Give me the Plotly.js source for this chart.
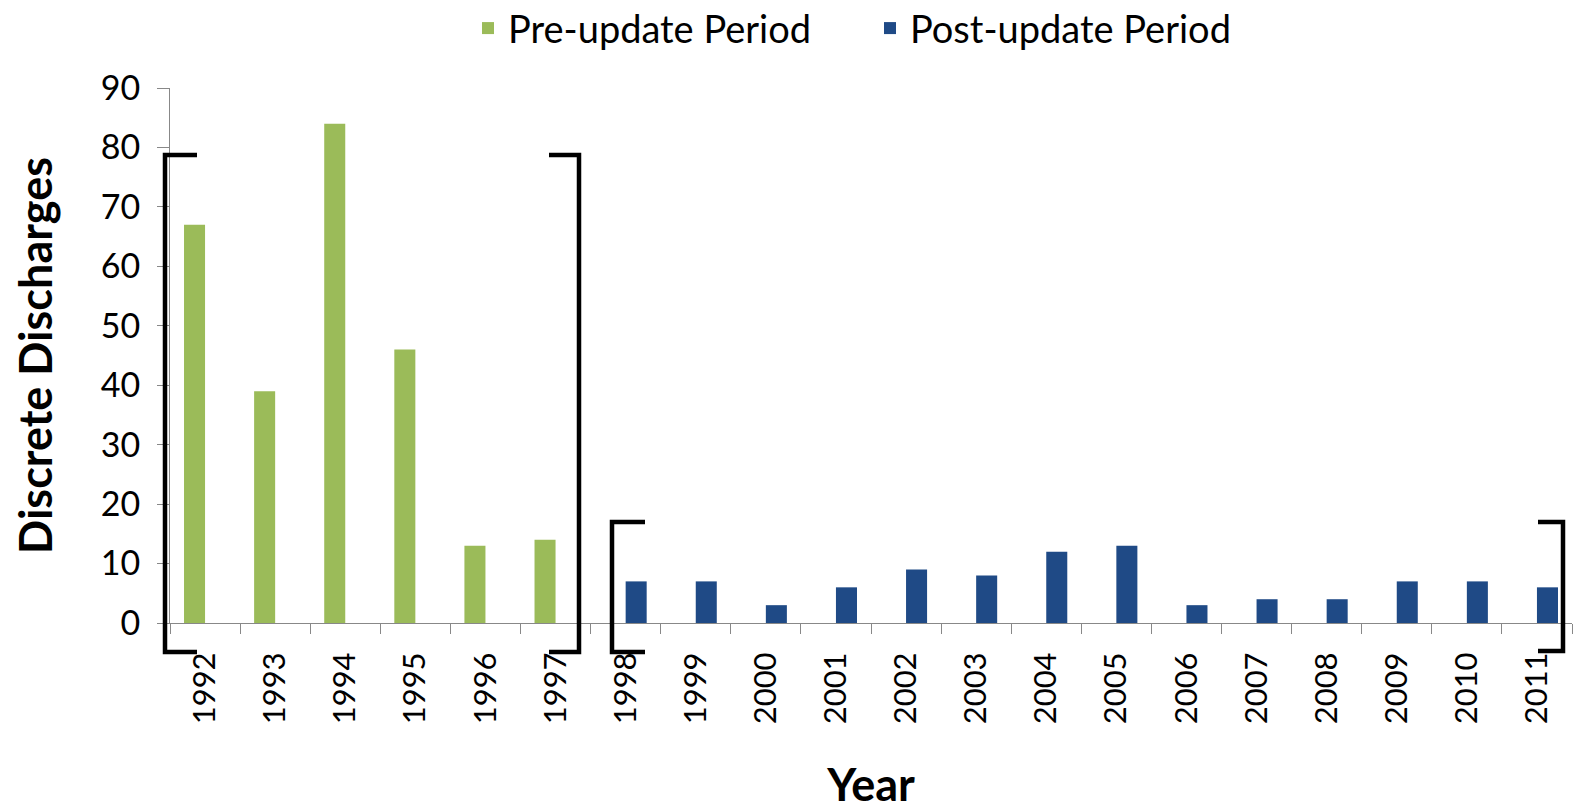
<!DOCTYPE html>
<html>
<head>
<meta charset="utf-8">
<script src="https://cdn.plot.ly/plotly-3.0.1.min.js"></script>
<style>html,body{margin:0;padding:0;background:#fff;}#chart{width:1573px;height:811px;}</style>
</head>
<body>
<div id="chart"></div>
<script>
const years = ['1992','1993','1994','1995','1996','1997','1998','1999','2000','2001','2002','2003','2004','2005','2006','2007','2008','2009','2010','2011'];
const preUpdate = [67, 39, 84, 46, 13, 14, null, null, null, null, null, null, null, null, null, null, null, null, null, null];
const postUpdate = [null, null, null, null, null, null, 7, 7, 3, 6, 9, 8, 12, 13, 3, 4, 4, 7, 7, 6];
const seriesNames = ['Pre-update Period', 'Post-update Period'];
const yTicks = [0, 10, 20, 30, 40, 50, 60, 70, 80, 90];

const FONT = 'Lato, Open Sans, sans-serif';
const L = 170, R = 1572, T = 88, B = 623;
const px = x => (x - L) / (R - L);
const py = y => (B - y) / (B - T);

function bracket(xv, xh, yTop, yBot) {
  return {
    type: 'path', xref: 'paper', yref: 'paper',
    path: `M ${px(xh)} ${py(yTop)} L ${px(xv)} ${py(yTop)} L ${px(xv)} ${py(yBot)} L ${px(xh)} ${py(yBot)}`,
    line: {color: '#000', width: 4.5}
  };
}

const traces = [
  {type: 'bar', name: seriesNames[0], x: years, y: preUpdate, marker: {color: '#9BBB59'}},
  {type: 'bar', name: seriesNames[1], x: years, y: postUpdate, marker: {color: '#1F4A86'}}
];

const layout = {
  width: 1573, height: 811,
  margin: {l: L, r: 1573 - R, t: T, b: 811 - B, autoexpand: false},
  paper_bgcolor: '#fff', plot_bgcolor: '#fff',
  barmode: 'group', bargap: 0.4, bargroupgap: 0,
  font: {family: FONT, color: '#000'},
  showlegend: true,
  legend: {orientation: 'h', x: 468 / 1573, xanchor: 'left', xref: 'container',
    y: 0.965, yanchor: 'middle', yref: 'container',
    font: {size: 38, family: FONT}, traceorder: 'normal', itemwidth: 30,
    entrywidth: 357, entrywidthmode: 'pixels'},
  xaxis: {
    type: 'category', tickson: 'boundaries', ticks: 'outside', ticklen: 10, tickcolor: '#888',
    showline: true, linecolor: '#888', linewidth: 1, showgrid: false, zeroline: false,
    tickangle: -90, tickfont: {size: 31, family: FONT}, ticklabelstandoff: 16,
    title: {text: '<b>Year</b>', font: {size: 45, family: FONT}, standoff: 60}
  },
  yaxis: {
    range: [0, 90], tickvals: yTicks, ticks: 'outside', ticklen: 12, tickcolor: '#888',
    showline: true, linecolor: '#888', linewidth: 1, showgrid: false, zeroline: false,
    tickfont: {size: 34, family: FONT}, ticklabelstandoff: 10,
    title: {text: '<b>Discrete Discharges</b>', font: {size: 45, family: FONT}, standoff: 33}
  },
  shapes: [
    bracket(165, 197, 155, 652),
    bracket(579, 549, 155, 652),
    bracket(612, 645, 522, 652),
    bracket(1563, 1538, 522, 651)
  ]
};

Plotly.newPlot('chart', traces, layout, {displayModeBar: false, staticPlot: true});
</script>
</body>
</html>
